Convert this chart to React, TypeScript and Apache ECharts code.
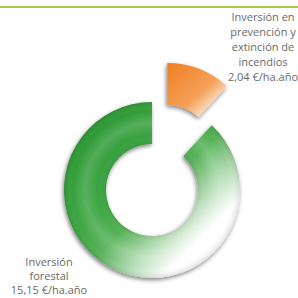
import React, { useEffect, useRef } from "react";
import * as echarts from "echarts";

const categories = ["Inversión en prevención y extinción de incendios", "Inversión forestal"];
const labelLines = [
  ["Inversión en", "prevención y", "extinción de", "incendios"],
  ["Inversión", "forestal"],
];
const values = [2.04, 15.15];
const unit = "€/ha.año";

const fmt = (v: number) => v.toFixed(2).replace(".", ",") + " " + unit;

export default function App() {
  const ref = useRef<HTMLDivElement>(null);
  useEffect(() => {
    if (!ref.current) return;
    const chart = echarts.init(ref.current, undefined, { renderer: "svg" });
    const cx = 152;
    const cy = 190;
    const greenGrad = new echarts.graphic.LinearGradient(
      cx - 64, cy - 64, cx + 64, cy + 64,
      [
        { offset: 0, color: "#2c9834" },
        { offset: 0.38, color: "#3fa744" },
        { offset: 0.54, color: "#55b257" },
        { offset: 0.72, color: "#b3dbb3" },
        { offset: 0.88, color: "#ffffff" },
        { offset: 1, color: "#ffffff" },
      ],
      true
    );
    const orangeGrad = new echarts.graphic.LinearGradient(0, 0, 1, 1, [
      { offset: 0, color: "#ee7f22" },
      { offset: 0.55, color: "#f4a058" },
      { offset: 0.9, color: "#ffffff" },
      { offset: 1, color: "#ffffff" },
    ]);
    const colors = [orangeGrad, greenGrad];
    const tube = new echarts.graphic.RadialGradient(0.5, 0.5, 0.5, [
      { offset: 0.5, color: "rgba(0,0,0,0.10)" },
      { offset: 0.62, color: "rgba(255,255,255,0.0)" },
      { offset: 0.76, color: "rgba(255,255,255,0.16)" },
      { offset: 0.9, color: "rgba(255,255,255,0.0)" },
      { offset: 1, color: "rgba(0,40,0,0.12)" },
    ]);
    const mkData = (overlay: boolean) =>
      values.map((v, i) => {
        const c = overlay ? (i === 1 ? tube : "rgba(0,0,0,0)") : colors[i];
        return {
          name: categories[i],
          value: v,
          selected: i === 0,
          itemStyle: { color: c },
          select: { itemStyle: { color: c, borderWidth: 0 } },
        };
      });
    const base = {
      type: "pie",
      center: [cx, cy],
      radius: [46, 88],
      startAngle: 90,
      clockwise: true,
      selectedMode: "single",
      selectedOffset: 42,
      label: { show: false },
      labelLine: { show: false },
      emphasis: { disabled: true },
      silent: true,
    };
    chart.setOption({
      animation: false,
      graphic: [
        { type: "rect", shape: { x: 0, y: 6, width: 298, height: 2 }, style: { fill: "#a2cd45" } },
        {
          type: "text",
          x: 263,
          y: 9,
          style: {
            text: [...labelLines[0], fmt(values[0])].join("\n"),
            fill: "#6a6a6a",
            font: '11px "Open Sans", sans-serif',
            lineHeight: 15,
            align: "center",
            verticalAlign: "top",
          },
        },
        {
          type: "text",
          x: 49,
          y: 254,
          style: {
            text: [...labelLines[1], fmt(values[1])].join("\n"),
            fill: "#6a6a6a",
            font: '11px "Open Sans", sans-serif',
            lineHeight: 14,
            align: "center",
            verticalAlign: "top",
          },
        },
      ],
      series: [
        {
          ...base,
          itemStyle: {
            borderWidth: 0,
            shadowBlur: 4,
            shadowColor: "rgba(0,0,0,0.5)",
            shadowOffsetX: -1,
            shadowOffsetY: 2,
          },
          data: mkData(false),
        },
        {
          ...base,
          itemStyle: { borderWidth: 0 },
          data: mkData(true),
        },
      ],
    });
    return () => chart.dispose();
  }, []);
  return (
    <div
      ref={ref}
      style={{ position: "fixed", left: 0, top: 0, width: 298, height: 298, background: "#fff" }}
    />
  );
}
